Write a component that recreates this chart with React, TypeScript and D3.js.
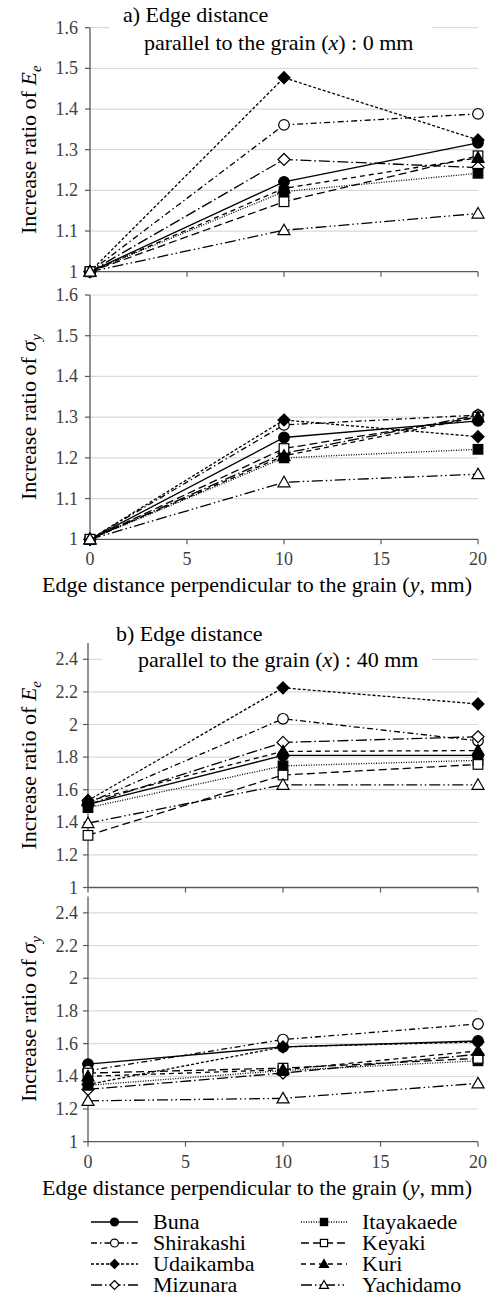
import * as d3 from "d3";
import React from "react";

// distance perpendicular to the grain (mm)
const yDistances = [0, 10, 20];
const xTicks = [0, 5, 10, 15, 20];

const speciesNames = [
  "Buna", "Shirakashi", "Udaikamba", "Mizunara",
  "Itayakaede", "Keyaki", "Kuri", "Yachidamo",
];

// a) x = 0 mm, increase ratio of Ee (rows follow speciesNames)
const eeA = [
  [1, 1.221, 1.317],
  [1, 1.361, 1.388],
  [1, 1.477, 1.324],
  [1, 1.276, 1.256],
  [1, 1.197, 1.242],
  [1, 1.172, 1.285],
  [1, 1.205, 1.28],
  [1, 1.102, 1.143],
];

// a) x = 0 mm, increase ratio of sigma_y
const sigmaA = [
  [1, 1.25, 1.291],
  [1, 1.281, 1.305],
  [1, 1.293, 1.252],
  [1, 1.211, 1.305],
  [1, 1.2, 1.221],
  [1, 1.223, 1.3],
  [1, 1.205, 1.3],
  [1, 1.14, 1.16],
];

// b) x = 40 mm, increase ratio of Ee
const eeB = [
  [1.51, 1.81, 1.81],
  [1.52, 2.035, 1.9],
  [1.534, 2.225, 2.126],
  [1.51, 1.89, 1.925],
  [1.49, 1.746, 1.78],
  [1.32, 1.69, 1.755],
  [1.53, 1.835, 1.84],
  [1.395, 1.63, 1.63],
];

// b) x = 40 mm, increase ratio of sigma_y
const sigmaB = [
  [1.475, 1.58, 1.616],
  [1.434, 1.625, 1.72],
  [1.35, 1.58, 1.61],
  [1.32, 1.42, 1.535],
  [1.345, 1.435, 1.495],
  [1.42, 1.45, 1.51],
  [1.4, 1.44, 1.555],
  [1.25, 1.265, 1.357],
];

const ticksA = [1, 1.1, 1.2, 1.3, 1.4, 1.5, 1.6];
const ticksB = [1, 1.2, 1.4, 1.6, 1.8, 2, 2.2, 2.4];

type Marker = "circle" | "diamond" | "square" | "triangle";
const seriesStyle: { marker: Marker; filled: boolean; dash: string }[] = [
  { marker: "circle", filled: true, dash: "" },
  { marker: "circle", filled: false, dash: "6 3 1.5 3" },
  { marker: "diamond", filled: true, dash: "3 2" },
  { marker: "diamond", filled: false, dash: "11 3 1.5 3" },
  { marker: "square", filled: true, dash: "1 1.5" },
  { marker: "square", filled: false, dash: "8 4" },
  { marker: "triangle", filled: true, dash: "5 4" },
  { marker: "triangle", filled: false, dash: "11 3 1.5 3 1.5 3" },
];

const FONT = "Liberation Serif, Tinos, Times New Roman, DejaVu Serif, serif";
const RIGHT = 478;

function MarkerShape({ type, filled, x, y, s = 1 }: { type: Marker; filled: boolean; x: number; y: number; s?: number }) {
  const fill = filled ? "#000" : "#fff";
  const common = { fill, stroke: "#000", strokeWidth: 1.2 };
  if (type === "circle") return <circle cx={x} cy={y} r={5.3 * s} {...common} />;
  if (type === "square") {
    const h = 4.8 * s;
    return <rect x={x - h} y={y - h} width={2 * h} height={2 * h} {...common} />;
  }
  if (type === "diamond") {
    const h = 6 * s;
    return <polygon points={`${x},${y - h} ${x + h},${y} ${x},${y + h} ${x - h},${y}`} {...common} />;
  }
  const h = 6 * s;
  return <polygon points={`${x},${y - h} ${x + h},${y + h * 0.75} ${x - h},${y + h * 0.75}`} {...common} />;
}

function Panel(props: {
  left: number; top: number; bottom: number; domain: [number, number];
  ticks: number[]; data: number[][]; labels: boolean; sub: string; symbol: string;
}) {
  const { left, top, bottom, domain, ticks, data, labels } = props;
  const x = d3.scaleLinear().domain([0, 20]).range([left, RIGHT]);
  const y = d3.scaleLinear().domain(domain).range([bottom, top]);
  const line = d3.line<number>().x((_, i) => x(yDistances[i])).y((d) => y(d));
  const cy = (top + bottom) / 2;
  return (
    <g>
      {ticks.filter((t) => t > domain[0]).map((t) => (
        <line key={t} x1={left} x2={RIGHT} y1={y(t)} y2={y(t)} stroke="#d9d9d9" strokeWidth={1.2} />
      ))}
      <line x1={left} x2={left} y1={top} y2={bottom} stroke="#595959" strokeWidth={1.3} />
      <line x1={left} x2={RIGHT} y1={bottom} y2={bottom} stroke="#595959" strokeWidth={1.3} />
      {ticks.map((t) => (
        <g key={"t" + t}>
          <line x1={left - 5} x2={left} y1={y(t)} y2={y(t)} stroke="#595959" strokeWidth={1.2} />
          <text x={78} y={y(t) + 6} textAnchor="end" fontSize={18} fill="#404040">
            {String(+t.toFixed(1))}
          </text>
        </g>
      ))}
      {xTicks.map((t) => (
        <g key={"x" + t}>
          <line x1={x(t)} x2={x(t)} y1={bottom} y2={bottom + 5} stroke="#595959" strokeWidth={1.2} />
          {labels && (
            <text x={x(t)} y={bottom + 26} textAnchor="middle" fontSize={18} fill="#404040">
              {t}
            </text>
          )}
        </g>
      ))}
      <text transform={`translate(36,${cy}) rotate(-90)`} textAnchor="middle" fontSize={22}>
        Increase ratio of{" "}
        <tspan fontStyle="italic">{props.symbol}</tspan>
        <tspan fontStyle="italic" fontSize={15} dy={5}>{props.sub}</tspan>
      </text>
      {data.map((row, i) => {
        const st = seriesStyle[i];
        return (
          <g key={speciesNames[i]}>
            <path d={line(row) || ""} fill="none" stroke="#000" strokeWidth={1.3} strokeDasharray={st.dash} />
            {row.map((v, j) => (
              <MarkerShape key={j} type={st.marker} filled={st.filled} x={x(yDistances[j])} y={y(v)} />
            ))}
          </g>
        );
      })}
    </g>
  );
}

function Title({ x1, x2, y1, y2, letter, dist }: { x1: number; x2: number; y1: number; y2: number; letter: string; dist: string }) {
  return (
    <g fontSize={22}>
      <rect x={x1 - 14} y={y1 - 18} width={432 - x1 + 14} height={y2 - y1 + 24} fill="#fff" />
      <text x={x1} y={y1}>{letter}) Edge distance</text>
      <text x={x2} y={y2}>
        parallel to the grain (<tspan fontStyle="italic">x</tspan>) : {dist} mm
      </text>
    </g>
  );
}

function XTitle({ y }: { y: number }) {
  return (
    <text x={257} y={y} textAnchor="middle" fontSize={22}>
      Edge distance perpendicular to the grain (<tspan fontStyle="italic">y</tspan>, mm)
    </text>
  );
}

export default function App() {
  const legendRows = [1222, 1243, 1264, 1285];
  return (
    <svg width={487} height={1294} style={{ position: "absolute", left: 0, top: 0, background: "#fff", fontFamily: FONT }}>
      <rect width={487} height={1294} fill="#fff" />
      <Panel left={90} top={27.7} bottom={271.7} domain={[1, 1.6]} ticks={ticksA} data={eeA} labels={false} symbol="E" sub="e" />
      <Title x1={123} x2={144} y1={22} y2={50} letter="a" dist="0" />
      <Panel left={90} top={295} bottom={539.3} domain={[1, 1.6]} ticks={ticksA} data={sigmaA} labels={true} symbol="σ" sub="y" />
      <XTitle y={592} />
      <Panel left={88} top={643} bottom={887.5} domain={[1, 2.5]} ticks={ticksB} data={eeB} labels={false} symbol="E" sub="e" />
      <Title x1={116} x2={138} y1={641} y2={667} letter="b" dist="40" />
      <Panel left={88} top={896.5} bottom={1141.7} domain={[1, 2.5]} ticks={ticksB} data={sigmaB} labels={true} symbol="σ" sub="y" />
      <XTitle y={1195} />
      {speciesNames.map((name, i) => {
        const col = i < 4 ? 0 : 1;
        const yy = legendRows[i % 4];
        const x0 = col === 0 ? 91 : 301;
        const x1 = col === 0 ? 138 : 347;
        const st = seriesStyle[i];
        return (
          <g key={name}>
            <line x1={x0} x2={x1} y1={yy} y2={yy} stroke="#000" strokeWidth={1.3} strokeDasharray={st.dash} />
            <MarkerShape type={st.marker} filled={st.filled} x={(x0 + x1) / 2} y={yy} s={0.75} />
            <text x={col === 0 ? 153 : 362} y={yy + 7} fontSize={22}>{name}</text>
          </g>
        );
      })}
    </svg>
  );
}
